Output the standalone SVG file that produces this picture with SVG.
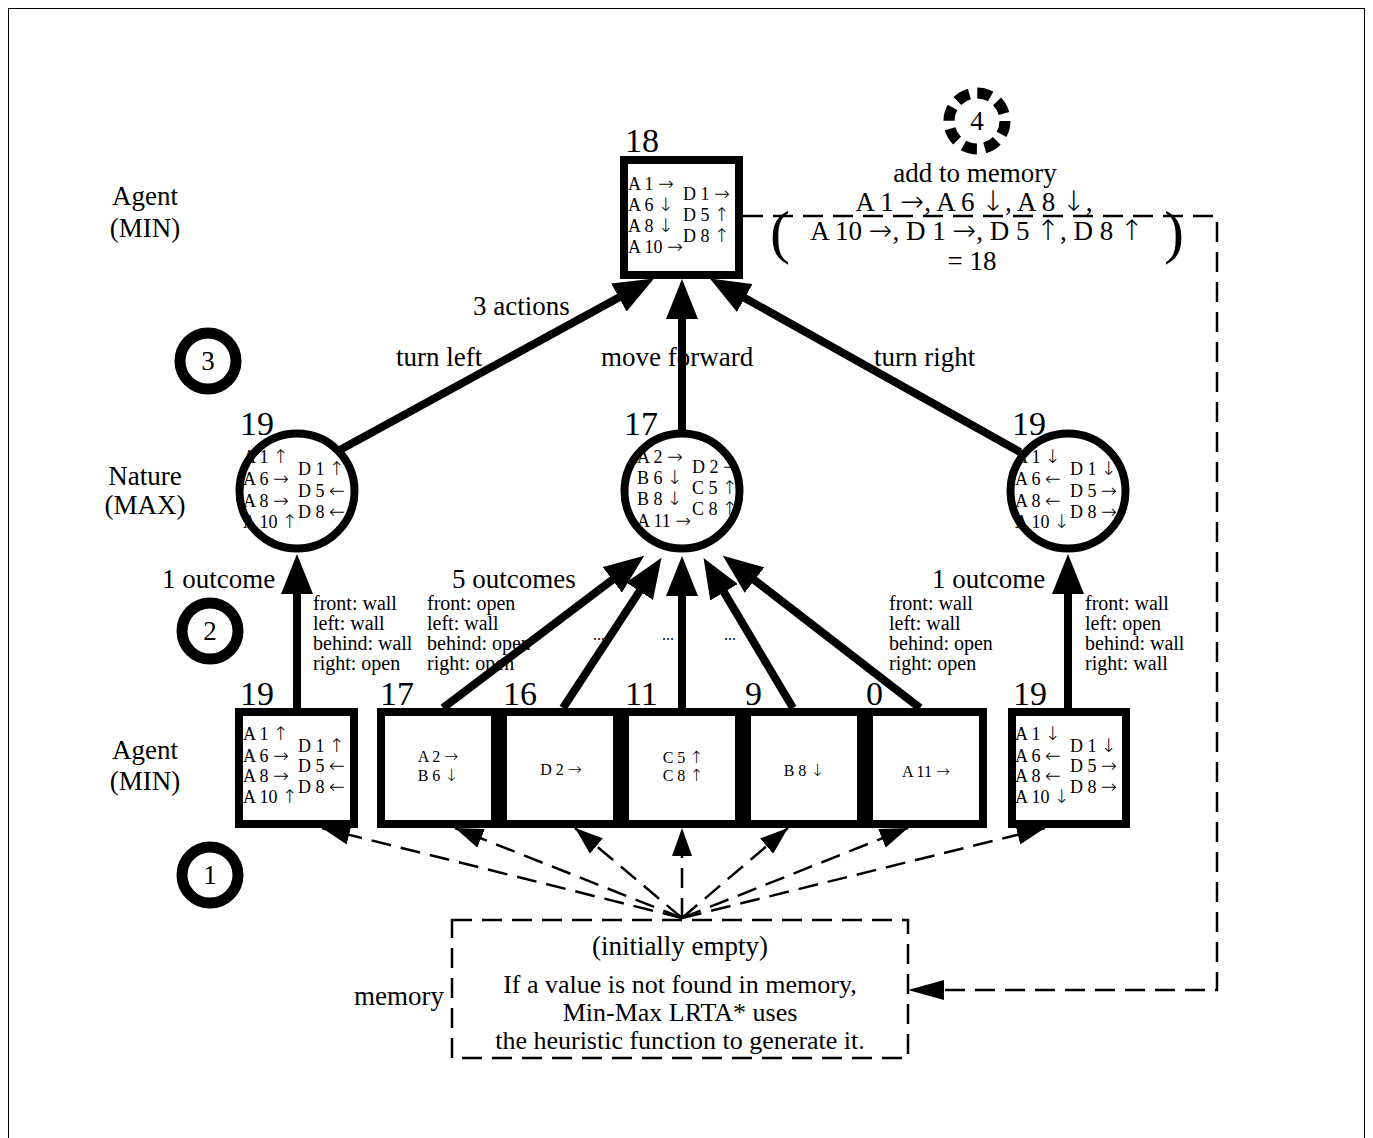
<svg xmlns="http://www.w3.org/2000/svg" width="1373" height="1138" viewBox="0 0 1373 1138">
<style>
text{font-family:"Liberation Serif","Times New Roman",serif;fill:#000}
.a{font-family:"DejaVu Sans",sans-serif;font-weight:200;font-size:1.05em}
.lbl{font-size:27px}
.mem{font-size:26px}
.num{font-size:34px}
.st{font-size:18px}
.sm{font-size:16px}
.cond{font-size:20px}
.mid{text-anchor:middle}
.node{fill:#fff;stroke:#000;stroke-width:8}
.ring{fill:none;stroke:#000;stroke-width:8}
.edge{fill:none;stroke:#000;stroke-width:8}
.dash{fill:none;stroke:#000;stroke-width:2.5;stroke-dasharray:20 10}
.step{fill:#fff;stroke:#000;stroke-width:11}
</style>
<defs>
<marker id="ah" markerUnits="userSpaceOnUse" viewBox="0 0 40 32" markerWidth="40" markerHeight="32" refX="1" refY="16" orient="auto"><path d="M0,0 L40,16 L0,32 z" fill="#000"/></marker>
<marker id="ahd" markerUnits="userSpaceOnUse" viewBox="0 0 28 20" markerWidth="28" markerHeight="20" refX="28" refY="10" orient="auto"><path d="M0,0 L28,10 L0,20 z" fill="#000"/></marker>
<marker id="ahm" markerUnits="userSpaceOnUse" viewBox="0 0 36 20" markerWidth="36" markerHeight="20" refX="36" refY="10" orient="auto"><path d="M0,0 L36,10 L0,20 z" fill="#000"/></marker>
</defs>
<rect x="0" y="0" width="1373" height="1138" fill="#fff"/>
<rect x="8.5" y="8.5" width="1356" height="1145" fill="none" stroke="#000" stroke-width="1"/>

<g id="labels">
<text class="lbl mid" x="145" y="205">Agent</text>
<text class="lbl mid" x="145" y="237">(MIN)</text>
<text class="lbl mid" x="145" y="485">Nature</text>
<text class="lbl mid" x="145" y="514">(MAX)</text>
<text class="lbl mid" x="145" y="759">Agent</text>
<text class="lbl mid" x="145" y="790">(MIN)</text>
<text class="lbl" x="473" y="315">3 actions</text>
<text class="lbl" x="396" y="366">turn left</text>
<text class="lbl" x="601" y="366">move forward</text>
<text class="lbl" x="874" y="366">turn right</text>
<text class="lbl" x="162" y="588">1 outcome</text>
<text class="lbl" x="452" y="588">5 outcomes</text>
<text class="lbl" x="932" y="588">1 outcome</text>
<g class="cond">
<text x="313" y="610">front: wall</text><text x="313" y="630">left: wall</text><text x="313" y="650">behind: wall</text><text x="313" y="670">right: open</text>
<text x="427" y="610">front: open</text><text x="427" y="630">left: wall</text><text x="427" y="650">behind: open</text><text x="427" y="670">right: open</text>
<text x="889" y="610">front: wall</text><text x="889" y="630">left: wall</text><text x="889" y="650">behind: open</text><text x="889" y="670">right: open</text>
<text x="1085" y="610">front: wall</text><text x="1085" y="630">left: open</text><text x="1085" y="650">behind: wall</text><text x="1085" y="670">right: wall</text>
</g>
<text class="sm mid" x="599" y="640">...</text>
<text class="sm mid" x="668" y="640">...</text>
<text class="sm mid" x="730" y="640">...</text>
<text class="lbl mid" x="975" y="182">add to memory</text>
<text class="lbl mid" x="974" y="211">A 1 <tspan class="a">→</tspan>, A 6 <tspan class="a">↓</tspan>, A 8 <tspan class="a">↓</tspan>,</text>
<text class="lbl mid" x="977" y="240">A 10 <tspan class="a">→</tspan>, D 1 <tspan class="a">→</tspan>, D 5 <tspan class="a">↑</tspan>, D 8 <tspan class="a">↑</tspan></text>
<text class="mid" style="font-size:60px" x="780" y="252">(</text>
<text class="mid" style="font-size:60px" x="1174" y="252">)</text>
<text class="lbl mid" x="972" y="270">= 18</text>
<text class="lbl" x="444" y="1005" text-anchor="end">memory</text>
</g>

<g id="step1"><circle class="step" cx="210" cy="875" r="28"/><text class="lbl mid" x="210" y="884">1</text></g>
<g id="step2"><circle class="step" cx="210" cy="631" r="28"/><text class="lbl mid" x="210" y="640">2</text></g>
<g id="step3"><circle class="step" cx="208" cy="361" r="28"/><text class="lbl mid" x="208" y="370">3</text></g>
<g id="step4"><circle class="step" cx="977" cy="121" r="28" style="stroke-dasharray:14 8"/><text class="lbl mid" x="977" y="130">4</text></g>

<g id="root">
<rect class="node" x="624" y="160" width="115" height="115"/>
<text class="num" x="625" y="152">18</text>
<g class="st"><text x="628" y="190">A 1 <tspan class="a">→</tspan></text><text x="628" y="211">A 6 <tspan class="a">↓</tspan></text><text x="628" y="232">A 8 <tspan class="a">↓</tspan></text><text x="628" y="253">A 10 <tspan class="a">→</tspan></text>
<text x="683" y="200">D 1 <tspan class="a">→</tspan></text><text x="683" y="221">D 5 <tspan class="a">↑</tspan></text><text x="683" y="242">D 8 <tspan class="a">↑</tspan></text></g>
</g>

<g id="nature-left">
<circle cx="297" cy="491" r="57.5" fill="#fff"/>
<text class="num" x="240" y="435">19</text>
<g class="st"><text x="243" y="463">A 1 <tspan class="a">↑</tspan></text><text x="243" y="485">A 6 <tspan class="a">→</tspan></text><text x="243" y="507">A 8 <tspan class="a">→</tspan></text><text x="243" y="528">A 10 <tspan class="a">↑</tspan></text>
<text x="298" y="475">D 1 <tspan class="a">↑</tspan></text><text x="298" y="497">D 5 <tspan class="a">←</tspan></text><text x="298" y="518">D 8 <tspan class="a">←</tspan></text></g>
<circle class="ring" cx="297" cy="491" r="57.5"/>
</g>

<g id="nature-mid">
<circle cx="682" cy="491" r="57.5" fill="#fff"/>
<text class="num" x="624" y="435">17</text>
<g class="st"><text x="637" y="463">A 2 <tspan class="a">→</tspan></text><text x="637" y="484">B 6 <tspan class="a">↓</tspan></text><text x="637" y="505">B 8 <tspan class="a">↓</tspan></text><text x="637" y="527">A 11 <tspan class="a">→</tspan></text>
<text x="692" y="473">D 2 <tspan class="a">→</tspan></text><text x="692" y="494">C 5 <tspan class="a">↑</tspan></text><text x="692" y="515">C 8 <tspan class="a">↑</tspan></text></g>
<circle class="ring" cx="682" cy="491" r="57.5"/>
</g>

<g id="nature-right">
<circle cx="1068" cy="491" r="57.5" fill="#fff"/>
<text class="num" x="1012" y="435">19</text>
<g class="st"><text x="1015" y="463">A 1 <tspan class="a">↓</tspan></text><text x="1015" y="485">A 6 <tspan class="a">←</tspan></text><text x="1015" y="507">A 8 <tspan class="a">←</tspan></text><text x="1015" y="528">A 10 <tspan class="a">↓</tspan></text>
<text x="1070" y="475">D 1 <tspan class="a">↓</tspan></text><text x="1070" y="497">D 5 <tspan class="a">→</tspan></text><text x="1070" y="518">D 8 <tspan class="a">→</tspan></text></g>
<circle class="ring" cx="1068" cy="491" r="57.5"/>
</g>

<g id="leaf-left">
<rect class="node" x="239" y="712" width="115" height="112"/>
<text class="num" x="240" y="705">19</text>
<g class="st"><text x="243" y="740">A 1 <tspan class="a">↑</tspan></text><text x="243" y="762">A 6 <tspan class="a">→</tspan></text><text x="243" y="782">A 8 <tspan class="a">→</tspan></text><text x="243" y="803">A 10 <tspan class="a">↑</tspan></text>
<text x="298" y="752">D 1 <tspan class="a">↑</tspan></text><text x="298" y="772">D 5 <tspan class="a">←</tspan></text><text x="298" y="793">D 8 <tspan class="a">←</tspan></text></g>
</g>

<g id="leaf-17">
<rect class="node" x="381" y="712" width="114" height="112"/>
<text class="num" x="380" y="705">17</text>
<text class="sm mid" x="438" y="762">A 2 <tspan class="a">→</tspan></text><text class="sm mid" x="438" y="781">B 6 <tspan class="a">↓</tspan></text>
</g>
<g id="leaf-16">
<rect class="node" x="503" y="712" width="114" height="112"/>
<text class="num" x="503" y="705">16</text>
<text class="sm mid" x="561" y="775">D 2 <tspan class="a">→</tspan></text>
</g>
<g id="leaf-11">
<rect class="node" x="625" y="712" width="114" height="112"/>
<text class="num" x="625" y="705">11</text>
<text class="sm mid" x="683" y="763">C 5 <tspan class="a">↑</tspan></text><text class="sm mid" x="683" y="781">C 8 <tspan class="a">↑</tspan></text>
</g>
<g id="leaf-9">
<rect class="node" x="747" y="712" width="114" height="112"/>
<text class="num" x="745" y="705">9</text>
<text class="sm mid" x="804" y="776">B 8 <tspan class="a">↓</tspan></text>
</g>
<g id="leaf-0">
<rect class="node" x="869" y="712" width="114" height="112"/>
<text class="num" x="866" y="705">0</text>
<text class="sm mid" x="926" y="777">A 11 <tspan class="a">→</tspan></text>
</g>

<g id="leaf-right">
<rect class="node" x="1012" y="712" width="114" height="112"/>
<text class="num" x="1013" y="705">19</text>
<g class="st"><text x="1015" y="740">A 1 <tspan class="a">↓</tspan></text><text x="1015" y="762">A 6 <tspan class="a">←</tspan></text><text x="1015" y="782">A 8 <tspan class="a">←</tspan></text><text x="1015" y="803">A 10 <tspan class="a">↓</tspan></text>
<text x="1070" y="752">D 1 <tspan class="a">↓</tspan></text><text x="1070" y="772">D 5 <tspan class="a">→</tspan></text><text x="1070" y="793">D 8 <tspan class="a">→</tspan></text></g>
</g>

<g id="memory">
<rect class="dash" x="452" y="920" width="456" height="138"/>
<text class="lbl mid" x="680" y="955">(initially empty)</text>
<text class="mem mid" x="680" y="993">If a value is not found in memory,</text>
<text class="mem mid" x="680" y="1021">Min-Max LRTA* uses</text>
<text class="mem mid" x="680" y="1049">the heuristic function to generate it.</text>
</g>

<g id="connectors">
<path class="edge" d="M338,451 L619.8,297.1" marker-end="url(#ah)"/>
<path class="edge" d="M682,430 L682,318" marker-end="url(#ah)"/>
<path class="edge" d="M1020,452 L743.9,297.5" marker-end="url(#ah)"/>
<path class="edge" d="M297,708 L297,593" marker-end="url(#ah)"/>
<path class="edge" d="M1068,708 L1068,593" marker-end="url(#ah)"/>
<path class="edge" d="M443,708 L613.1,579.2" marker-end="url(#ah)"/>
<path class="edge" d="M563,708 L640.1,590.4" marker-end="url(#ah)"/>
<path class="edge" d="M682,708 L682,595" marker-end="url(#ah)"/>
<path class="edge" d="M793,708 L723.5,591.4" marker-end="url(#ah)"/>
<path class="edge" d="M920,708 L753.7,579.5" marker-end="url(#ah)"/>
<path class="dash" d="M682,918 L322,828" marker-end="url(#ahd)"/>
<path class="dash" d="M682,918 L455,828" marker-end="url(#ahd)"/>
<path class="dash" d="M682,918 L575,828" marker-end="url(#ahd)"/>
<path class="dash" d="M682,918 L682,828" marker-end="url(#ahd)"/>
<path class="dash" d="M682,918 L788,828" marker-end="url(#ahd)"/>
<path class="dash" d="M682,918 L908,828" marker-end="url(#ahd)"/>
<path class="dash" d="M682,918 L1045,828" marker-end="url(#ahd)"/>
<path class="dash" d="M743,216 H1217 V990 H908" marker-end="url(#ahm)"/>
</g>
</svg>
